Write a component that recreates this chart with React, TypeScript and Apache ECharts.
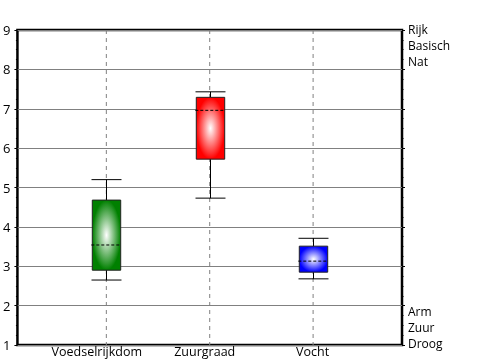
import React, { useEffect, useRef } from "react";
import * as echarts from "echarts";

const categories = ["Voedselrijkdom", "Zuurgraad", "Vocht"];
const lows = [2.65, 4.73, 2.68];
const q1s = [2.9, 5.72, 2.85];
const medians = [3.54, 6.96, 3.13];
const q3s = [4.68, 7.29, 3.51];
const highs = [5.2, 7.43, 3.71];
const boxColors = ["#008000", "#ff0000", "#0000ff"];
const topLabels = ["Rijk", "Basisch", "Nat"];
const bottomLabels = ["Arm", "Zuur", "Droog"];
const yMin = 1;
const yMax = 9;

const FONT = "'Open Sans', 'Noto Sans', sans-serif";
const labelShift = [19, 10, 1];

export default function App() {
  const ref = useRef<HTMLDivElement>(null);
  useEffect(() => {
    if (!ref.current) return;
    const chart = echarts.init(ref.current, undefined, { renderer: "svg" });
    const positions = categories.map((_, i) => i + 1);
    const boxData = categories.map((_, i) => [positions[i], lows[i], q1s[i], medians[i], q3s[i], highs[i]]);

    const labelStyle = { fontFamily: FONT, fontSize: 12, fill: "#000" };
    const graphic: any[] = [];
    topLabels.forEach((t, i) => {
      graphic.push({ type: "text", left: 408, top: 23 + i * 16, style: { ...labelStyle, text: t } });
    });
    bottomLabels.forEach((t, i) => {
      graphic.push({ type: "text", left: 408, top: 305 + i * 16, style: { ...labelStyle, text: t } });
    });

    const rich: any = {};
    categories.forEach((_, i) => {
      rich["c" + i] = { fontFamily: FONT, fontSize: 12.5, lineHeight: 12, color: "#000", padding: [0, labelShift[i], 0, 0] };
    });

    chart.setOption({
      animation: false,
      grid: { left: 17, right: 98, top: 30, bottom: 15, show: true, borderColor: "#000", borderWidth: 2.5, backgroundColor: "transparent" },
      xAxis: {
        type: "value",
        min: 0.14,
        max: 3.86,
        axisLine: { show: false },
        axisTick: { show: false },
        splitLine: { show: false },
        axisLabel: {
          customValues: positions,
          formatter: (v: number) => {
            const i = Math.round(v) - 1;
            return categories[i] ? `{c${i}|${categories[i]}}` : "";
          },
          rich,
          fontFamily: FONT,
          fontSize: 12.5,
          lineHeight: 12,
          color: "#000",
          margin: 0,
        },
      },
      yAxis: [
        {
          type: "value",
          min: yMin,
          max: yMax,
          interval: 1,
          position: "left",
          axisLine: { show: false },
          axisTick: { show: true, length: 3, lineStyle: { color: "#000" } },
          minorTick: { show: true, splitNumber: 4, length: 1.5, lineStyle: { color: "#000" } },
          splitLine: { show: true, lineStyle: { color: "#808080", width: 1 } },
          axisLabel: { fontFamily: FONT, fontSize: 13, color: "#000", margin: 7 },
        },
        {
          type: "value",
          min: yMin,
          max: yMax,
          interval: 1,
          position: "right",
          axisLine: { show: false },
          axisTick: { show: true, length: 3, lineStyle: { color: "#000" } },
          minorTick: { show: true, splitNumber: 4, length: 1.5, lineStyle: { color: "#000" } },
          splitLine: { show: false },
          axisLabel: { show: false },
        },
      ],
      graphic,
      series: [
        {
          type: "custom",
          silent: true,
          data: positions.map((p) => [p]),
          renderItem: (params: any, api: any) => {
            const x = api.value(0);
            const a = api.coord([x, yMax]);
            const b = api.coord([x, yMin]);
            return {
              type: "line",
              shape: { x1: a[0], y1: a[1], x2: b[0], y2: b[1] },
              style: { stroke: "#808080", lineWidth: 1, lineDash: [4, 4] },
            };
          },
        },
        {
          type: "custom",
          data: boxData,
          renderItem: (params: any, api: any) => {
            const x = api.value(0);
            const low = api.coord([x, api.value(1)]);
            const q1 = api.coord([x, api.value(2)]);
            const med = api.coord([x, api.value(3)]);
            const q3 = api.coord([x, api.value(4)]);
            const high = api.coord([x, api.value(5)]);
            const cx = Math.round(low[0]) + 0.5;
            const w = api.size([0.275, 0])[0];
            const capW = api.size([0.29, 0])[0];
            const color = boxColors[params.dataIndex];
            const lineStyle = { stroke: "#000", lineWidth: 1 };
            return {
              type: "group",
              children: [
                { type: "line", shape: { x1: cx, y1: high[1], x2: cx, y2: q3[1] }, style: lineStyle },
                { type: "line", shape: { x1: cx, y1: q1[1], x2: cx, y2: low[1] }, style: lineStyle },
                { type: "line", shape: { x1: cx - capW / 2, y1: high[1], x2: cx + capW / 2, y2: high[1] }, style: lineStyle },
                { type: "line", shape: { x1: cx - capW / 2, y1: low[1], x2: cx + capW / 2, y2: low[1] }, style: lineStyle },
                {
                  type: "rect",
                  shape: { x: cx - w / 2, y: q3[1], width: w, height: q1[1] - q3[1] },
                  style: {
                    fill: {
                      type: "radial",
                      x: 0.5,
                      y: 0.5,
                      r: 0.5,
                      colorStops: [
                        { offset: 0, color: "#ffffff" },
                        { offset: 1, color },
                      ],
                    },
                    stroke: "#222",
                    lineWidth: 1,
                  },
                },
                {
                  type: "line",
                  shape: { x1: cx - w / 2 - 1, y1: med[1], x2: cx + w / 2, y2: med[1] },
                  style: { stroke: "#000", lineWidth: 1, lineDash: [3, 2] },
                },
              ],
            };
          },
        },
      ],
    });
    return () => chart.dispose();
  }, []);
  return <div ref={ref} style={{ position: "fixed", left: 0, top: 0, width: 500, height: 360 }} />;
}
